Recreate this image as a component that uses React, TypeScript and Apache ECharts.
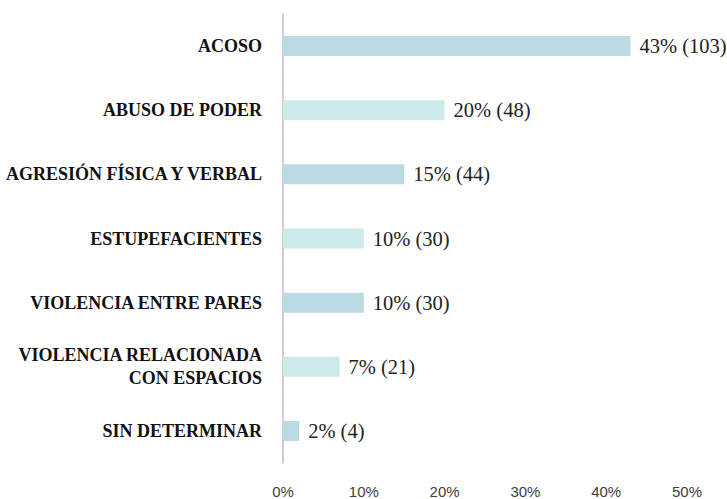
import React, { useEffect, useRef } from "react";
import * as echarts from "echarts";

const categories = [
  "ACOSO",
  "ABUSO DE PODER",
  "AGRESIÓN FÍSICA Y VERBAL",
  "ESTUPEFACIENTES",
  "VIOLENCIA ENTRE PARES",
  "VIOLENCIA RELACIONADA\nCON ESPACIOS",
  "SIN DETERMINAR",
];
const percentages = [43, 20, 15, 10, 10, 7, 2];
const counts = [103, 48, 44, 30, 30, 21, 4];
const xTicks = [0, 10, 20, 30, 40, 50];

export default function App() {
  const ref = useRef<HTMLDivElement>(null);
  useEffect(() => {
    if (!ref.current) return;
    const chart = echarts.init(ref.current, null, { renderer: "svg" });
    chart.setOption({
      animation: false,
      color: ["#bbdbe2", "#cdeaea"],
      grid: { left: 283, width: 404, top: 14, height: 451 },
      xAxis: {
        type: "value",
        min: xTicks[0],
        max: xTicks[xTicks.length - 1],
        interval: 10,
        axisLine: { show: false },
        axisTick: { show: false },
        splitLine: { show: false },
        axisLabel: {
          margin: 21,
          formatter: (v: number) => `${v}%`,
          fontFamily: "'Liberation Sans', Arial, sans-serif",
          fontSize: 15,
          color: "#404040",
        },
      },
      yAxis: {
        type: "category",
        inverse: true,
        data: categories,
        axisLine: { show: true, lineStyle: { color: "#bfbfbf", width: 1.5 } },
        axisTick: { show: false },
        axisLabel: {
          margin: 21,
          fontFamily: "'Liberation Serif', 'Times New Roman', serif",
          fontWeight: "bold",
          fontSize: 18,
          lineHeight: 23,
          color: "#111",
          align: "right",
        },
      },
      series: [
        {
          type: "bar",
          colorBy: "data",
          barWidth: 20,
          data: percentages,
          label: {
            show: true,
            position: "right",
            distance: 9,
            formatter: (p: any) => `${percentages[p.dataIndex]}% (${counts[p.dataIndex]})`,
            fontFamily: "'Liberation Serif', 'Times New Roman', serif",
            fontSize: 20.5,
            color: "#222",
          },
        },
      ],
    });
    return () => chart.dispose();
  }, []);
  return (
    <div
      ref={ref}
      style={{ position: "fixed", left: 0, top: 0, width: 727, height: 499, background: "#fff" }}
    />
  );
}
